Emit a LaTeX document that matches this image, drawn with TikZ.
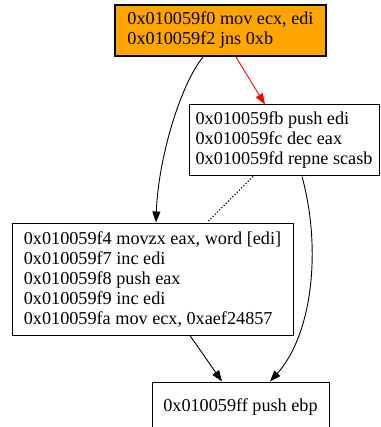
\documentclass[tikz,border=0pt]{standalone}
\usepackage{fontspec}
\setmainfont{Liberation Serif}
\usetikzlibrary{arrows.meta,positioning}

\begin{document}
\begin{tikzpicture}[
x=1pt,y=-1pt,
>={Triangle[length=11pt,width=8pt]},
block/.style={
	draw,
	line width=1pt,
	align=left,
	inner sep=0pt,
	font=\fontsize{18.2}{20}\selectfont
},
entry/.style={
	block,
	line width=2.2pt,
	fill={rgb,255:red,255;green,165;blue,0}
},
flow/.style={
	->,
	line width=0.9pt
},
taken/.style={
	->,
	line width=0.9pt,
	red
},
fall/.style={
	line width=1.1pt,
	dotted
}
]
\useasboundingbox (0,0) rectangle (380,427);

\node[entry,minimum width=211pt,minimum height=51pt] (b0) at (220.5,30.5)
	{0x010059f0 mov ecx, edi\\0x010059f2 jns 0xb};
\node[block,minimum width=190pt,minimum height=71pt] (b1) at (284,140.5)
	{0x010059fb push edi\\0x010059fc dec eax\\0x010059fd repne scasb};
\node[block,minimum width=281pt,minimum height=112pt] (b2) at (152.5,279)
	{0x010059f4 movzx eax, word [edi]\\0x010059f7 inc edi\\0x010059f8 push eax\\0x010059f9 inc edi\\0x010059fa mov ecx, 0xaef24857};
\node[block,minimum width=177pt,minimum height=50pt] (b3) at (240.5,407)
	{0x010059ff push ebp};

\draw[flow] ([xshift=-17.5pt]b0.south) .. controls (180,85) and (158,160) .. ([xshift=3.5pt]b2.north);
\draw[taken] ([xshift=15.5pt]b0.south) -- ([xshift=-19pt]b1.north);
\draw[fall] ([xshift=-31pt]b1.south) -- ([xshift=54.5pt]b2.north);
\draw[flow] ([xshift=37.5pt]b2.south) -- ([xshift=-18.5pt]b3.north);
\draw[flow] ([xshift=18pt]b1.south) .. controls (322,250) and (312,335) .. ([xshift=29.5pt]b3.north);
\end{tikzpicture}
\end{document}
